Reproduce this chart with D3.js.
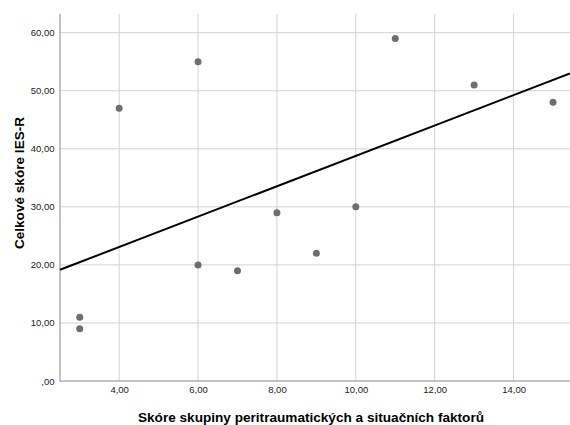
<!DOCTYPE html>
<html><head><meta charset="utf-8">
<script src="https://cdn.jsdelivr.net/npm/d3@7"></script>
<style>body{margin:0;background:#fff;}svg{display:block;font-family:"Liberation Sans",Arial,sans-serif;}</style>
</head><body><svg id="c" width="570" height="425"></svg>
<script>
const xValues = [3, 3, 4, 6, 6, 7, 8, 9, 10, 11, 13, 15];
const yValues = [11, 9, 47, 55, 20, 19, 29, 22, 30, 59, 51, 48];
const xTicks = [4, 6, 8, 10, 12, 14];
const yTicks = [0, 10, 20, 30, 40, 50, 60];
const xTitle = "Skóre skupiny peritraumatických a situačních faktorů";
const yTitle = "Celkové skóre IES-R";

const svg = d3.select("#c");
const L = 60, R = 570, T = 14, B = 381;
const x = d3.scaleLinear().domain([2.5, 15.43]).range([L, R]);
const y = d3.scaleLinear().domain([0, 60]).range([B, 32.7]);
const fmt = v => v === 0 ? ",00" : d3.format(".2f")(v).replace(".", ",");

// grid
svg.append("g").selectAll("line").data(yTicks.filter(d => d > 0)).join("line")
  .attr("x1", L).attr("x2", R).attr("y1", d => y(d)).attr("y2", d => y(d))
  .attr("stroke", "#d2d2d2").attr("stroke-width", 1);
svg.append("g").selectAll("line").data(xTicks).join("line")
  .attr("x1", d => x(d)).attr("x2", d => x(d)).attr("y1", T).attr("y2", B)
  .attr("stroke", "#d2d2d2").attr("stroke-width", 1);

// axes
const yAxis = svg.append("g").attr("transform", `translate(${L},0)`)
  .call(d3.axisLeft(y).tickValues(yTicks).tickFormat(fmt).tickSize(0).tickPadding(5.5));
yAxis.select(".domain").remove();
yAxis.selectAll("text").attr("font-size", 9.5).attr("fill", "#222").attr("font-family", "Liberation Sans, Arial, sans-serif");
const xAxis = svg.append("g").attr("transform", `translate(0,${B})`)
  .call(d3.axisBottom(x).tickValues(xTicks).tickFormat(fmt).tickSize(0).tickPadding(5));
xAxis.select(".domain").remove();
xAxis.selectAll("text").attr("font-size", 9.5).attr("fill", "#222").attr("font-family", "Liberation Sans, Arial, sans-serif");

svg.append("line").attr("x1", L).attr("x2", L).attr("y1", T).attr("y2", B + 0.5)
  .attr("stroke", "#888").attr("stroke-width", 1);
svg.append("line").attr("x1", L).attr("x2", R).attr("y1", B).attr("y2", B)
  .attr("stroke", "#888").attr("stroke-width", 1);

// regression line
const n = xValues.length;
const mx = d3.mean(xValues), my = d3.mean(yValues);
let sxy = 0, sxx = 0;
for (let i = 0; i < n; i++) { sxy += (xValues[i] - mx) * (yValues[i] - my); sxx += (xValues[i] - mx) ** 2; }
const slope = sxy / sxx, intercept = my - slope * mx;
const [x0, x1] = x.domain();
svg.append("line")
  .attr("x1", x(x0)).attr("y1", y(intercept + slope * x0))
  .attr("x2", x(x1)).attr("y2", y(intercept + slope * x1))
  .attr("stroke", "#000").attr("stroke-width", 2);

// points
svg.append("g").selectAll("circle").data(xValues.map((d, i) => [d, yValues[i]])).join("circle")
  .attr("cx", d => x(d[0])).attr("cy", d => y(d[1])).attr("r", 3.5)
  .attr("fill", "#6e6e6e");

// titles
svg.append("text").attr("x", 311).attr("y", 422).attr("text-anchor", "middle")
  .attr("font-size", 13.6).attr("font-weight", "bold").attr("fill", "#000").text(xTitle);
svg.append("text").attr("transform", "translate(23.5,183) rotate(-90)").attr("text-anchor", "middle")
  .attr("font-size", 13.6).attr("font-weight", "bold").attr("fill", "#000").text(yTitle);
</script></body></html>
